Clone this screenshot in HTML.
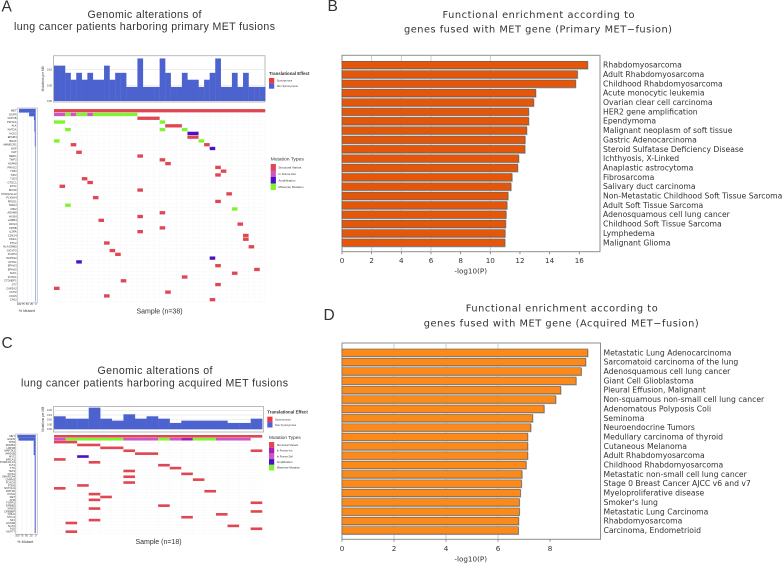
<!DOCTYPE html>
<html lang="en">
<head>
<meta charset="utf-8">
<title>MET fusion genomic alterations and functional enrichment</title>
<style>
html,body{margin:0;padding:0;background:#fff;width:784px;height:566px;overflow:hidden}
svg{display:block;filter:blur(.3px)}
text{fill:#333}
.h{font-family:"Liberation Sans",sans-serif}
.d{font-family:"DejaVu Sans",sans-serif}
</style>
</head>
<body>
<svg id="figure" xmlns="http://www.w3.org/2000/svg" width="784" height="566" viewBox="0 0 784 566">
<text class="h" x="1.5" y="11.5" font-size="15.5">A</text>
<text class="h" x="327.5" y="11" font-size="15.5">B</text>
<text class="h" x="1.5" y="348" font-size="15.5">C</text>
<text class="h" x="323.5" y="320" font-size="15.5">D</text>
<text class="h" x="87.5" y="18" font-size="10.6" textLength="114" lengthAdjust="spacing">Genomic alterations of</text>
<text class="h" x="14" y="30" font-size="10.6" textLength="261" lengthAdjust="spacing">lung cancer patients harboring primary MET fusions</text>
<text class="h" x="97.5" y="374" font-size="10.6" textLength="115" lengthAdjust="spacing">Genomic alterations of</text>
<text class="h" x="21" y="386.5" font-size="10.6" textLength="267" lengthAdjust="spacing">lung cancer patients harboring acquired MET fusions</text>
<text class="d" x="442.5" y="18" font-size="9.8" textLength="192" lengthAdjust="spacing">Functional enrichment according to</text>
<text class="d" x="404" y="32.5" font-size="9.8" textLength="268" lengthAdjust="spacing">genes fused with MET gene (Primary MET−fusion)</text>
<text class="d" x="465.7" y="311.5" font-size="9.8" textLength="192" lengthAdjust="spacing">Functional enrichment according to</text>
<text class="d" x="423.7" y="326.5" font-size="9.8" textLength="275" lengthAdjust="spacing">genes fused with MET gene (Acquired MET−fusion)</text>
</svg>
<script>
// ---------- Panel B data ----------
const bTerms = ["Rhabdomyosarcoma","Adult Rhabdomyosarcoma","Childhood Rhabdomyosarcoma","Acute monocytic leukemia","Ovarian clear cell carcinoma","HER2 gene amplification","Ependymoma","Malignant neoplasm of soft tissue","Gastric Adenocarcinoma","Steroid Sulfatase Deficiency Disease","Ichthyosis, X-Linked","Anaplastic astrocytoma","Fibrosarcoma","Salivary duct carcinoma","Non-Metastatic Childhood Soft Tissue Sarcoma","Adult Soft Tissue Sarcoma","Adenosquamous cell lung cancer","Childhood Soft Tissue Sarcoma","Lymphedema","Malignant Glioma"];
const bValues = [16.56,15.87,15.75,13.06,12.92,12.58,12.58,12.45,12.34,12.33,11.91,11.84,11.46,11.39,11.19,11.12,11.06,11.03,10.99,10.98];
const bTicks = [0,2,4,6,8,10,12,14,16];
const bGridTicks = [2,4,6,10];
// ---------- Panel D data ----------
const dTerms = ["Metastatic Lung Adenocarcinoma","Sarcomatoid carcinoma of the lung","Adenosquamous cell lung cancer","Giant Cell Glioblastoma","Pleural Effusion, Malignant","Non-squamous non-small cell lung cancer","Adenomatous Polyposis Coli","Seminoma","Neuroendocrine Tumors","Medullary carcinoma of thyroid","Cutaneous Melanoma","Adult Rhabdomyosarcoma","Childhood Rhabdomyosarcoma","Metastatic non-small cell lung cancer","Stage 0 Breast Cancer AJCC v6 and v7","Myeloproliferative disease","Smoker's lung","Metastatic Lung Carcinoma","Rhabdomyosarcoma","Carcinoma, Endometrioid"];
const dValues = [9.45,9.37,9.2,9.0,8.41,8.22,7.77,7.33,7.26,7.14,7.14,7.14,7.08,6.92,6.9,6.86,6.82,6.82,6.79,6.78];
const dTicks = [0,2,4,6,8];
const dGridTicks = [2,4,6];
// ---------- Panel A data ----------
const aBurden = [.113,.113,.09,.068,.09,.068,.09,.068,.068,.113,.068,.09,.09,.045,.045,.136,.045,.045,.045,.136,.09,.045,.045,.09,.068,.068,.045,.068,.09,.136,.045,.045,.09,.045,.09,.045,.045,.045];
const aBurdenTicks = [0,.05,.1];
const aGenes = ["MET","EGFR","DCP1B","PIK3CA","ALK","KMT2A","NCK2","EPHB4","BRAF","AMMECR1","NGF","OAT","MED1","TWF2","HSPA8","PRKG2","TRIO","TJP2","TLE3","GTDC1","ETV1","BCOR","POM121L12","PLXNA4","PRSS1","MSH3","MFI2","ADAM8","HGSN","LAMB4","LRIG3","KIF5B","IL2RA","CDK14","CDIL1","PTK2","HLA-DRB5","GIGYF2","FOXP3","PAPSS2","ATXN1","EPHA3","EPHA2","SCF1","FOXK1","CTDNEP1","ST7","CAPZA2","CFTR","COG5","CAV2"];
const aPercent = [100,39.5,10.5,7.9,7.9,7.9,5.3,5.3,5.3,5.3,2.6,2.6,2.6,2.6,2.6,2.6,2.6,2.6,2.6,2.6,2.6,2.6,2.6,2.6,2.6,2.6,2.6,2.6,2.6,2.6,2.6,2.6,2.6,2.6,2.6,2.6,2.6,2.6,2.6,2.6,2.6,2.6,2.6,2.6,2.6,2.6,2.6,2.6,2.6,2.6,2.6];
const pctTicks = [100,75,50,25,0];
// each entry: gene row, first sample, last sample, mutation type
const aMutations = [[0,0,37,"V"],[1,0,1,"D"],[1,2,2,"M"],[1,3,3,"D"],[1,4,5,"M"],[1,6,6,"D"],[1,7,14,"M"],[2,15,18,"V"],[3,0,1,"M"],[3,19,19,"M"],[4,20,22,"V"],[5,2,2,"M"],[5,19,19,"M"],[5,23,23,"M"],[6,24,25,"A"],[7,24,25,"V"],[8,0,0,"M"],[8,26,26,"M"],[9,3,3,"V"],[9,27,27,"V"],[10,28,28,"A"],[11,4,4,"V"],[12,15,15,"V"],[13,19,19,"V"],[14,20,20,"V"],[15,29,29,"V"],[16,30,30,"V"],[17,29,29,"V"],[18,5,5,"V"],[19,6,6,"V"],[20,1,1,"V"],[21,15,15,"V"],[22,31,31,"V"],[23,7,7,"V"],[24,29,29,"V"],[25,2,2,"M"],[26,32,32,"M"],[27,19,19,"V"],[28,15,15,"V"],[29,8,8,"V"],[30,33,33,"V"],[31,19,19,"V"],[32,15,15,"V"],[33,34,34,"V"],[34,34,34,"V"],[35,9,9,"V"],[36,35,35,"V"],[37,10,10,"V"],[38,11,11,"V"],[39,28,28,"A"],[40,4,4,"A"],[41,29,29,"V"],[42,36,36,"V"],[43,32,32,"V"],[44,23,23,"V"],[45,12,12,"V"],[46,29,29,"V"],[47,0,0,"V"],[48,20,20,"V"],[49,9,9,"V"],[50,28,28,"V"]];
// ---------- Panel C data ----------
const cBurden = [.137,.112,.112,.228,.112,.091,.158,.112,.137,.112,.067,.091,.091,.091,.091,.067,.067,.112];
const cBurdenTicks = [0,.05,.1,.15,.2];
const cGenes = ["MET","EGFR","TP53","KDM6A","LRP1B","MAP3K1","ARID1B","MYC","BRCA1","POM121L12","FLT4","TTK","TET2","ROS1","SMARCA4","CHRM3","FOXO3","PTEN","NOTCH1","KMT2D","PCM1","RET","ATM","FGFR1","ERBB2","KRAS","CREBBP","CDH1","STK11","NF1","HCN1B","SLIT2","ALK","NUP77"];
const cPercent = [100,94.4,11.1,11.1,11.1,11.1,11.1,5.6,5.6,5.6,5.6,5.6,5.6,5.6,5.6,5.6,5.6,5.6,5.6,5.6,5.6,5.6,5.6,5.6,5.6,5.6,5.6,5.6,5.6,5.6,5.6,5.6,5.6,5.6];
const cMutations = [[0,0,17,"V"],[1,0,0,"D"],[1,1,5,"M"],[1,6,8,"D"],[1,9,9,"M"],[1,10,10,"D"],[1,11,11,"I"],[1,12,13,"M"],[1,14,16,"D"],[2,0,1,"V"],[3,2,3,"V"],[4,4,5,"V"],[5,6,6,"V"],[5,17,17,"V"],[6,7,8,"V"],[7,2,2,"A"],[8,0,0,"V"],[9,3,3,"V"],[10,9,9,"V"],[11,10,10,"V"],[12,6,6,"V"],[13,11,11,"V"],[14,6,6,"V"],[15,12,12,"V"],[16,6,6,"V"],[17,2,2,"V"],[18,0,0,"V"],[19,13,13,"V"],[20,3,3,"V"],[21,4,4,"V"],[22,3,3,"V"],[23,17,17,"V"],[24,9,9,"V"],[25,3,3,"V"],[26,17,17,"V"],[27,14,14,"V"],[28,11,11,"V"],[29,3,3,"V"],[30,1,1,"V"],[31,15,15,"V"],[32,17,17,"V"],[33,1,1,"V"]];
// ---------- Legend data ----------
const effectNames = ["Synonymous","Non Synonymous"];
const aTypeNames = ["Structural Variant","In Frame Del","Amplification","Missense Mutation"];
const cTypeNames = ["Structural Variant","In Frame Ins","In Frame Del","Amplification","Missense Mutation"];

const typeColor = {V:"#e04753",D:"#cc55c8",I:"#a61fae",A:"#4a12c8",M:"#7ff52e"};
const typeNameColor = {"Structural Variant":"#e04753","In Frame Del":"#cc55c8","In Frame Ins":"#a61fae","Amplification":"#4a12c8","Missense Mutation":"#7ff52e"};
const effectColor = ["#f0363f","#4b62cf"];
const svg = document.getElementById("figure");
const NS = "http://www.w3.org/2000/svg";
function mk(tag, attrs, txt){
  const e = document.createElementNS(NS, tag);
  for (const k in attrs) e.setAttribute(k, attrs[k]);
  if (txt !== undefined) e.textContent = txt;
  svg.appendChild(e);
  return e;
}

function enrichment(prefix, terms, values, ticks, gridTicks, color, o){
  const x = v => o.x0 + v * o.scale;
  const y = i => o.y0 + i * 9.35;
  const frame = mk("rect",{x:o.x0,y:o.top,width:o.right-o.x0,height:o.bottom-o.top,fill:"#fff",stroke:"#8a8f90","stroke-width":1});
  
  
  gridTicks.forEach(t => {
    const g = mk("line",{x1:x(t),x2:x(t),y1:o.top,y2:o.bottom,stroke:"#b6c6c8","stroke-width":.8});
    
    
  });
  values.forEach((v,i) => {
    const s = mk("rect",{x:o.x0,y:y(i)-3.4,width:x(v)-o.x0+.8,height:8.1,fill:"#adadad"});
    
    
    const b = mk("rect",{x:o.x0,y:y(i)-3.7,width:x(v)-o.x0,height:7.4,fill:color,stroke:"#66605a","stroke-width":.6});
    
    
    const l = mk("text",{class:"d",x:o.right+3,y:y(i)+2.6,"font-size":7.68},terms[i]);
    
    
  });
  ticks.forEach(t => {
    const k = mk("line",{x1:x(t),x2:x(t),y1:o.bottom,y2:o.bottom+2.5,stroke:"#666","stroke-width":.7});
    
    
    const l = mk("text",{class:"d",x:x(t),y:o.bottom+11.5,"font-size":7.2,"text-anchor":"middle"},t);
    
    
  });
  const title = mk("text",{class:"d",x:470.7,y:o.bottom+22,"font-size":7.2,"text-anchor":"middle"},"-log10(P)");
  
  
}
enrichment("panel-b", bTerms, bValues, bTicks, bGridTicks, "#e4560a", {x0:342,right:600,top:55.3,bottom:251.7,scale:14.83,y0:65});
enrichment("panel-d", dTerms, dValues, dTicks, dGridTicks, "#fb8a1a", {x0:342,right:600.5,top:343,bottom:539.3,scale:26,y0:352.7});

function oncoplot(prefix, burden, burdenTicks, genes, percent, mutations, o){
  // burden bars
  const fr = mk("rect",{x:o.fx0,y:o.fTop,width:o.fx1-o.fx0,height:o.fBot-o.fTop,fill:"#fff",stroke:"#b4b4b4","stroke-width":.9});
  
  
  const by = v => o.bBase - v * o.bScale;
  const cx = c => o.cx0 + c * o.cw;
  burdenTicks.forEach(t => {
    const g = mk("line",{x1:o.fx0,x2:o.fx1,y1:by(t),y2:by(t),stroke:"#ddd","stroke-width":.5});
    
    
    const l = mk("text",{class:"h",x:o.fx0-1.5,y:by(t)+.9,"font-size":2.6,"text-anchor":"end"},t.toFixed(2));
    
    
  });
  burden.forEach((v,c) => {
    const b = mk("rect",{x:cx(c),y:by(v),width:o.cw+.15,height:by(0)-by(v),fill:"#4b62cf"});
    
    
  });
  const yt = mk("text",{class:"h",transform:"translate("+(o.fx0-9.5)+","+((o.fTop+o.fBot)/2)+") rotate(-90)","font-size":3.2,"text-anchor":"middle"},"Mutations per MB");
  
  

  // matrix
  const ry = i => o.r0 + i * o.rh;
  const mTop = ry(0) - o.rh/2, mBot = ry(genes.length-1) + o.rh/2;
  const cw = burden.length;
  for (let c = 0; c <= cw; c++){
    const g = mk("line",{x1:cx(c),x2:cx(c),y1:mTop,y2:mBot,stroke:"#f6f6f6","stroke-width":.4});
    
    
  }
  genes.forEach((name,i) => {
    const g = mk("line",{x1:cx(0),x2:cx(cw),y1:ry(i)+o.rh/2,y2:ry(i)+o.rh/2,stroke:"#f6f6f6","stroke-width":.4});
    
    
    const l = mk("text",{class:"h",x:o.px0-.7,y:ry(i)+.9,"font-size":2.7,"text-anchor":"end"},name);
    
    
  });
  mutations.forEach(m => {
    const r = mk("rect",{x:cx(m[1]),y:ry(m[0])-o.cellH/2,width:(m[2]-m[1]+1)*o.cw,height:o.cellH,fill:typeColor[m[3]]});
    
    
  });

  // percent mutated
  const pf = mk("rect",{x:o.px0,y:mTop-.8,width:o.px1-o.px0,height:mBot-mTop+2,fill:"#fff",stroke:"#bcbccb","stroke-width":.8});
  
  
  const px = p => o.pBase - p/100 * o.pLen;
  pctTicks.forEach(t => {
    const g = mk("line",{x1:px(t),x2:px(t),y1:mTop,y2:mBot,stroke:"#eee","stroke-width":.4});
    
    
    const l = mk("text",{class:"h",x:px(t),y:mBot+3.6,"font-size":2.6,"text-anchor":"middle"},t);
    
    
  });
  percent.forEach((p,i) => {
    const b = mk("rect",{x:px(p),y:ry(i)-o.rh/2,width:px(0)-px(p),height:o.rh,fill:"#4b62cf"});
    
    
  });
  const pt = mk("text",{class:"h",x:o.px0+9.5,y:o.pctY,"font-size":3.8,"text-anchor":"middle"},"% Mutant");
  
  
  const st = mk("text",{class:"h",x:o.sampleX,y:o.sampleY,"font-size":7,"text-anchor":"middle"},"Sample (n=" + burden.length + ")");
  
  
}
oncoplot("panel-a", aBurden, aBurdenTicks, aGenes, aPercent, aMutations, {fx0:53.5,fx1:265,fTop:55.7,fBot:102,bBase:101,bScale:313,cx0:54,cw:5.56,r0:110.7,rh:3.78,cellH:3.3,px0:17.3,px1:37.3,pBase:35.7,pLen:16.7,pctY:312,sampleX:159.5,sampleY:313.5});
oncoplot("panel-c", cBurden, cBurdenTicks, cGenes, cPercent, cMutations, {fx0:53.5,fx1:263.5,fTop:406.5,fBot:432,bBase:429.3,bScale:95,cx0:54,cw:11.57,r0:436.3,rh:2.89,cellH:2.6,px0:15.7,px1:37.3,pBase:35.7,pLen:18.3,pctY:543,sampleX:158.5,sampleY:544});

function legend(prefix, part, title, names, colors, o){
  const t = mk("text",{class:"h",x:o.x,y:o.titleY,"font-size":o.titleSize,"font-weight":part==="effect"?"bold":"normal"},title);
  
  
  names.forEach((n,i) => {
    const s = mk("rect",{x:o.x,y:o.y0+i*o.step,width:o.sw,height:o.step,fill:colors[i]});
    
    
    const l = mk("text",{class:"h",x:o.x+o.sw+2.5,y:o.y0+i*o.step+o.step/2+1,"font-size":o.size},n);
    
    
  });
}
legend("panel-a","effect","Translational Effect",effectNames,effectColor,{x:269,titleY:74.8,titleSize:4.4,y0:78,step:5.35,sw:5.2,size:2.7});
legend("panel-a","type","Mutation Types",aTypeNames,aTypeNames.map(n=>typeNameColor[n]),{x:270.7,titleY:160.5,titleSize:4.9,y0:164,step:6.5,sw:5.2,size:3});
legend("panel-c","effect","Translational Effect",effectNames,effectColor,{x:267.3,titleY:413.5,titleSize:4.4,y0:416.7,step:5.4,sw:5.2,size:2.7});
legend("panel-c","type","Mutation Types",cTypeNames,cTypeNames.map(n=>typeNameColor[n]),{x:269,titleY:439.2,titleSize:4.7,y0:442,step:5.7,sw:5.2,size:2.8});
</script>
</body>
</html>
